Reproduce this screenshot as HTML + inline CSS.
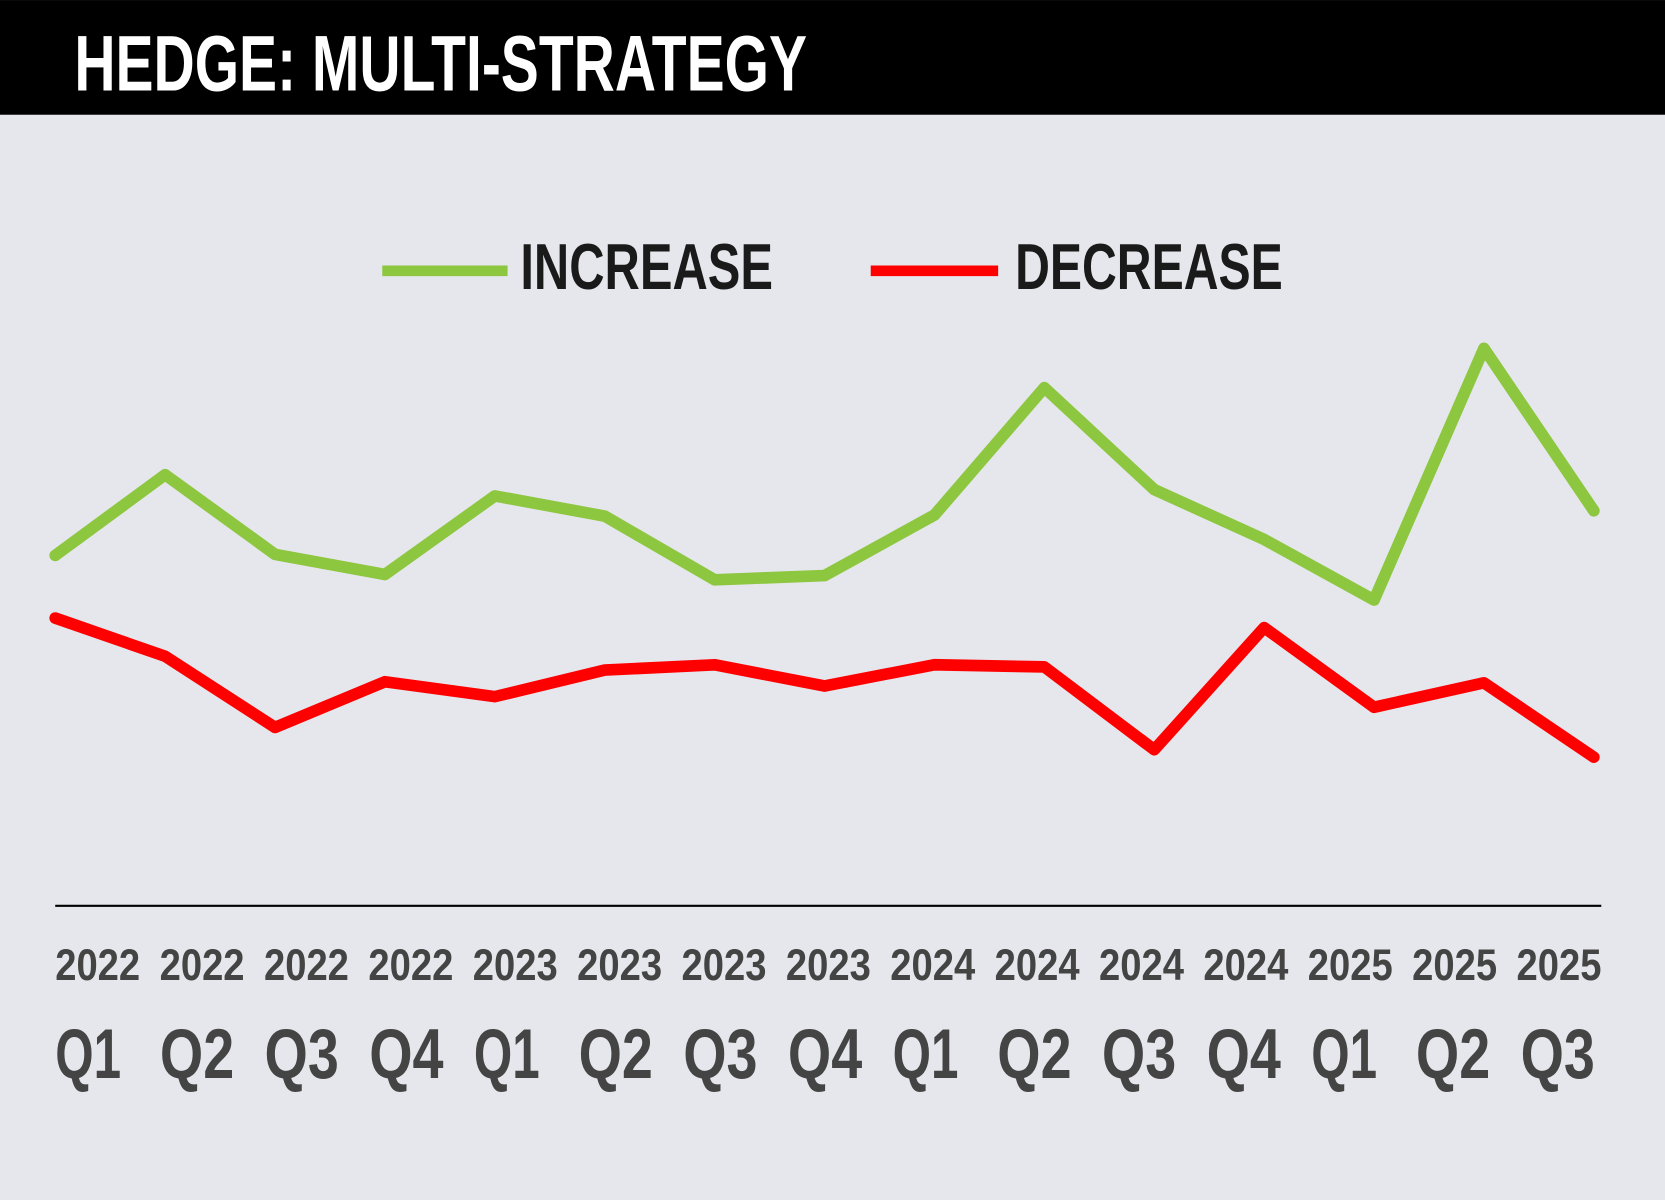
<!DOCTYPE html>
<html><head><meta charset="utf-8"><style>
html,body{margin:0;padding:0;background:#e6e7ec;}
svg{display:block;}
text{font-family:"Liberation Sans Narrow","Liberation Sans",sans-serif;font-weight:bold;}
</style></head><body>
<svg id="chart" width="1665" height="1200" viewBox="0 0 1568 1130" xmlns="http://www.w3.org/2000/svg">
<rect x="0" y="0" width="1568" height="1130" fill="#e6e7ec"/>
<rect x="0" y="0" width="1568" height="108" fill="#000"/>
<text x="70" y="85" font-size="74" fill="#fff" textLength="690" lengthAdjust="spacingAndGlyphs">HEDGE: MULTI-STRATEGY</text>
<g>
<line x1="360" y1="255" x2="478" y2="255" stroke="#8dc63f" stroke-width="10"/>
<text x="490" y="272" font-size="61" fill="#1a1a1a" textLength="238" lengthAdjust="spacingAndGlyphs">INCREASE</text>
<line x1="820" y1="255" x2="940" y2="255" stroke="#ff0000" stroke-width="10"/>
<text x="956" y="272" font-size="61" fill="#1a1a1a" textLength="252" lengthAdjust="spacingAndGlyphs">DECREASE</text>
</g>
<line x1="52" y1="853" x2="1508" y2="853" stroke="#000" stroke-width="2"/>
<g id="marks"></g>
<g id="labels"></g>
</svg>
<script>
const years = ["2022","2022","2022","2022","2023","2023","2023","2023","2024","2024","2024","2024","2025","2025","2025"];
const quarters = ["Q1","Q2","Q3","Q4","Q1","Q2","Q3","Q4","Q1","Q2","Q3","Q4","Q1","Q2","Q3"];
const increase = [27.7,35.3,27.8,25.9,33.3,31.4,25.4,25.8,31.5,43.5,33.9,29.2,23.5,47.2,31.9];
const decrease = [21.8,18.2,11.5,15.8,14.4,16.9,17.4,15.4,17.4,17.2,9.4,20.9,13.4,15.7,8.7];

const NS = "http://www.w3.org/2000/svg";
function xPos(i){ return 52 + i * (1501 - 52) / (years.length - 1); }
function yPos(v){ return 800 - 10 * v; }
function labelX(i){ return 52 + i * 98.3; }
function qLabelX(i){ return 52 + i * (1432 - 52) / (years.length - 1); }

const marks = document.getElementById('marks');
function drawSeries(vals, color, name){
  const pl = document.createElementNS(NS, 'polyline');
  pl.setAttribute('points', vals.map((v,i)=>xPos(i)+','+yPos(v)).join(' '));
  pl.setAttribute('fill','none');
  pl.setAttribute('stroke',color);
  pl.setAttribute('stroke-width','11');
  pl.setAttribute('stroke-linejoin','round');
  pl.setAttribute('stroke-linecap','round');
  
  
  marks.appendChild(pl);
}
drawSeries(increase, '#8dc63f', 'increase-line');
drawSeries(decrease, '#ff0000', 'decrease-line');

const labels = document.getElementById('labels');
years.forEach((y,i)=>{
  const t = document.createElementNS(NS,'text');
  t.setAttribute('x', labelX(i));
  t.setAttribute('y', 923);
  t.setAttribute('font-size', 42);
  t.setAttribute('fill', '#444');
  t.setAttribute('textLength', 80);
  t.setAttribute('lengthAdjust', 'spacingAndGlyphs');
  t.textContent = y;
  
  
  labels.appendChild(t);
  const q = document.createElementNS(NS,'text');
  q.setAttribute('x', qLabelX(i));
  q.setAttribute('y', 1015);
  q.setAttribute('font-size', 66);
  q.setAttribute('fill', '#444');
  q.setAttribute('textLength', quarters[i]==="Q1" ? 62 : 70);
  q.setAttribute('lengthAdjust', 'spacingAndGlyphs');
  q.textContent = quarters[i];
  
  
  labels.appendChild(q);
});
</script>
</body></html>
